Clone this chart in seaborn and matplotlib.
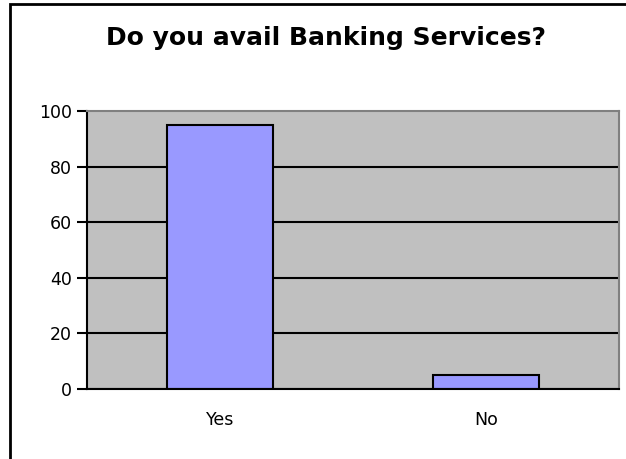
import matplotlib
matplotlib.use("Agg")
import matplotlib.pyplot as plt
from matplotlib.patches import Rectangle
import seaborn as sns
import pandas as pd

# Survey answers and share of respondents (%)
answers = ["Yes", "No"]
percent = [95, 5]
y_ticks = [0, 20, 40, 60, 80, 100]
title = "Do you avail Banking Services?"

sns.set_theme(style="white")
plt.rcParams["font.family"] = ["DejaVu Sans"]

df = pd.DataFrame({"answer": answers, "percent": percent})

fig = plt.figure(figsize=(6.26, 4.59), dpi=100)
fig.patch.set_facecolor("white")
ax = fig.add_axes([87 / 626, 70 / 459, 532 / 626, 278 / 459])
ax.set_facecolor("#C0C0C0")

sns.barplot(data=df, x="answer", y="percent", color="#9999FF",
            edgecolor="black", linewidth=1.5, width=0.4, saturation=1, ax=ax)

ax.set_ylim(0, 100)
ax.set_xlim(-0.5, len(answers) - 0.5)
ax.set_yticks(y_ticks)
ax.set_yticklabels([str(t) for t in y_ticks], fontsize=12.5, color="black")
ax.set_xlabel("")
ax.set_ylabel("")

# Black horizontal gridlines behind the bars
ax.set_axisbelow(True)
ax.yaxis.grid(True, color="black", linewidth=1.5)
ax.xaxis.grid(False)
ax.get_ygridlines()[-1].set_visible(False)

# Category labels centred, tick marks at the category boundaries
ax.set_xticks(range(len(answers)))
ax.set_xticklabels(answers, fontsize=12.5, color="black")
ax.tick_params(axis="x", which="major", length=0, pad=16)
ax.set_xticks([i - 0.5 for i in range(len(answers) + 1)], minor=True)
ax.tick_params(axis="x", which="minor", length=6, width=1.5, color="black", direction="out")
ax.tick_params(axis="y", length=7, width=1.5, color="black", direction="out", pad=4, left=True)

for side in ("left", "bottom"):
    ax.spines[side].set_color("black")
    ax.spines[side].set_linewidth(1.5)
for side in ("top", "right"):
    ax.spines[side].set_color("#808080")
    ax.spines[side].set_linewidth(1.5)

fig.text(326 / 626, 1 - 38 / 459, title, ha="center", va="center",
         fontsize=18, fontweight="bold", color="black")

# Chart frame
fig.patches.append(Rectangle((9.5 / 626, -0.1), 1.2, 1 - 4 / 459 + 0.1,
                             transform=fig.transFigure, fill=False,
                             edgecolor="black", linewidth=2, zorder=10))

fig.savefig("out.png", dpi=100)
